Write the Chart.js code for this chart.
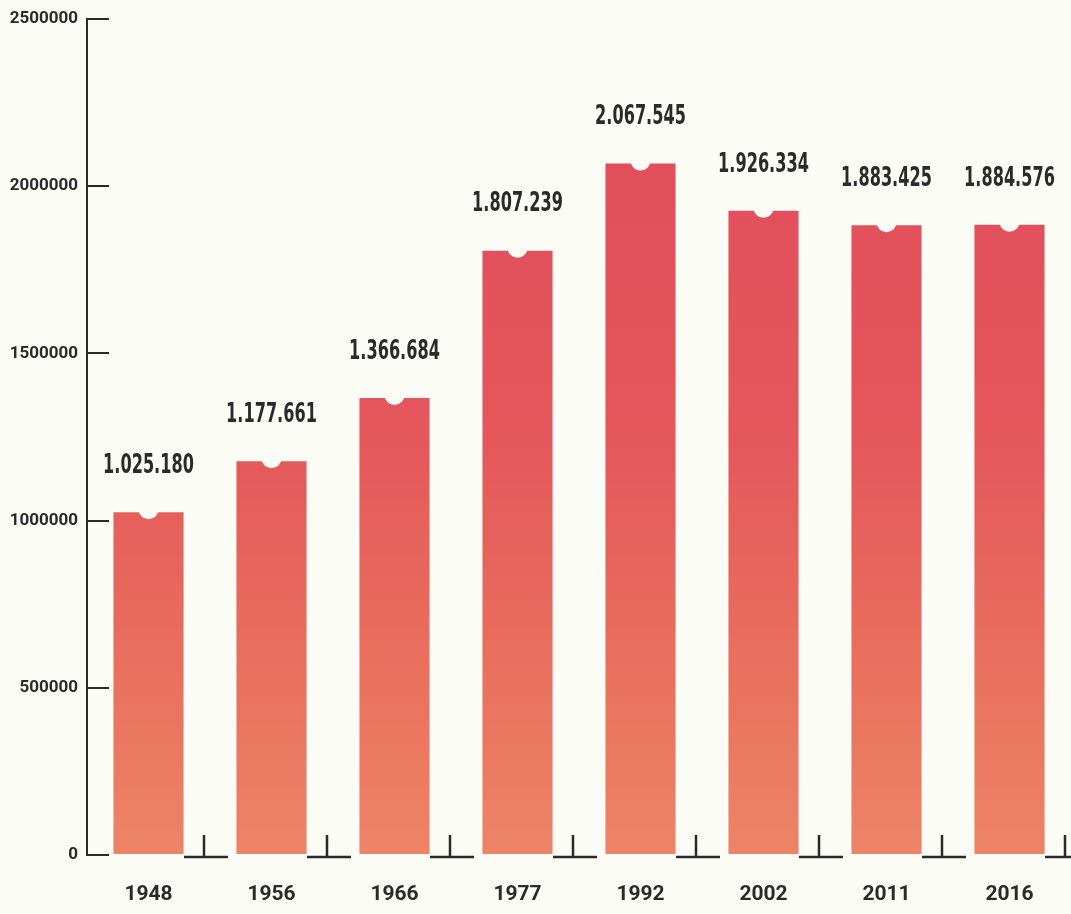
<!DOCTYPE html>
<html>
<head>
<meta charset="utf-8">
<script src="https://cdn.jsdelivr.net/npm/chart.js@4"></script>
<style>
  html, body { margin: 0; padding: 0; background: #fcfcf7; }
  #wrap { width: 1071px; height: 914px; position: relative; }
</style>
</head>
<body>
<div id="wrap"><canvas id="c"></canvas></div>
<script>
// ---- data ----
const years = ['1948', '1956', '1966', '1977', '1992', '2002', '2011', '2016'];
const population = [1025180, 1177661, 1366684, 1807239, 2067545, 1926334, 1883425, 1884576];
const valueLabels = ['1.025.180', '1.177.661', '1.366.684', '1.807.239', '2.067.545', '1.926.334', '1.883.425', '1.884.576'];
const yTicks = [0, 500000, 1000000, 1500000, 2000000, 2500000];

const BG = '#fcfcf7';
const INK = '#2a2a2a';
const NARROW = "Roboto, 'DejaVu Sans', sans-serif";

function barGradient(context) {
  const chart = context.chart;
  const area = chart.chartArea;
  if (!area) return '#e4525c';
  const g = chart.ctx.createLinearGradient(0, area.bottom, 0, area.top);
  g.addColorStop(0, '#ed8466');
  g.addColorStop(0.25, '#e86e5d');
  g.addColorStop(0.5, '#e4575b');
  g.addColorStop(1, '#df4a5c');
  return g;
}

const decorPlugin = {
  id: 'decor',
  afterDatasetsDraw(chart) {
    const ctx = chart.ctx;
    const meta = chart.getDatasetMeta(0);
    const xs = chart.scales.x;
    const ys = chart.scales.y;
    const y0 = ys.getPixelForValue(0);
    const half = (chart.chartArea.width / years.length) / 2;
    ctx.save();
    // notches on bar tops
    ctx.fillStyle = BG;
    meta.data.forEach(bar => {
      ctx.beginPath();
      ctx.arc(bar.x, bar.y - 3, 10, 0, Math.PI * 2);
      ctx.fill();
    });
    // small baseline marks between categories
    ctx.strokeStyle = INK;
    ctx.lineWidth = 2.5;
    years.forEach((_, i) => {
      const bx = xs.getPixelForValue(i) + half - 6;
      ctx.beginPath();
      ctx.moveTo(bx, y0 + 2);
      ctx.lineTo(bx, y0 - 20);
      ctx.moveTo(bx - 20, y0 + 2);
      ctx.lineTo(bx + 24, y0 + 2);
      ctx.stroke();
    });
    // value labels
    ctx.fillStyle = INK;
    ctx.textAlign = 'center';
    ctx.textBaseline = 'bottom';
    ctx.font = "bold 26px 'DejaVu Sans', sans-serif";
    meta.data.forEach((bar, i) => {
      ctx.save();
      ctx.translate(bar.x, bar.y - 33);
      ctx.scale(0.62, 1);
      ctx.fillText(valueLabels[i], 0, 0);
      ctx.restore();
    });
    ctx.restore();
  }
};

new Chart(document.getElementById('c'), {
  type: 'bar',
  data: {
    labels: years,
    datasets: [{
      data: population,
      backgroundColor: barGradient,
      borderWidth: 0,
      categoryPercentage: 1,
      barPercentage: 0.57
    }]
  },
  options: {
    responsive: true,
    maintainAspectRatio: false,
    animation: false,
    layout: { padding: 0 },
    plugins: { legend: { display: false }, tooltip: { enabled: false } },
    scales: {
      x: {
        grid: { display: false, drawTicks: false },
        border: { display: false },
        ticks: {
          color: INK,
          padding: 27,
          font: { family: NARROW, size: 21, weight: 'bold' }
        },
        afterFit(scale) { scale.height = 59; }
      },
      y: {
        min: 0,
        max: 2500000,
        afterBuildTicks(scale) { scale.ticks = yTicks.map(v => ({ value: v })); },
        grid: {
          drawOnChartArea: false,
          drawTicks: true,
          tickLength: -22,
          color: INK,
          lineWidth: 2
        },
        border: { display: true, color: INK, width: 2 },
        ticks: {
          color: INK,
          padding: 31,
          font: { family: NARROW, size: 17, weight: 'bold' },
          callback: v => String(v)
        },
        afterFit(scale) {
          scale.width = 87;
          scale.paddingTop = 19;
          scale.paddingBottom = 0;
        }
      }
    }
  },
  plugins: [decorPlugin]
});
</script>
</body>
</html>
